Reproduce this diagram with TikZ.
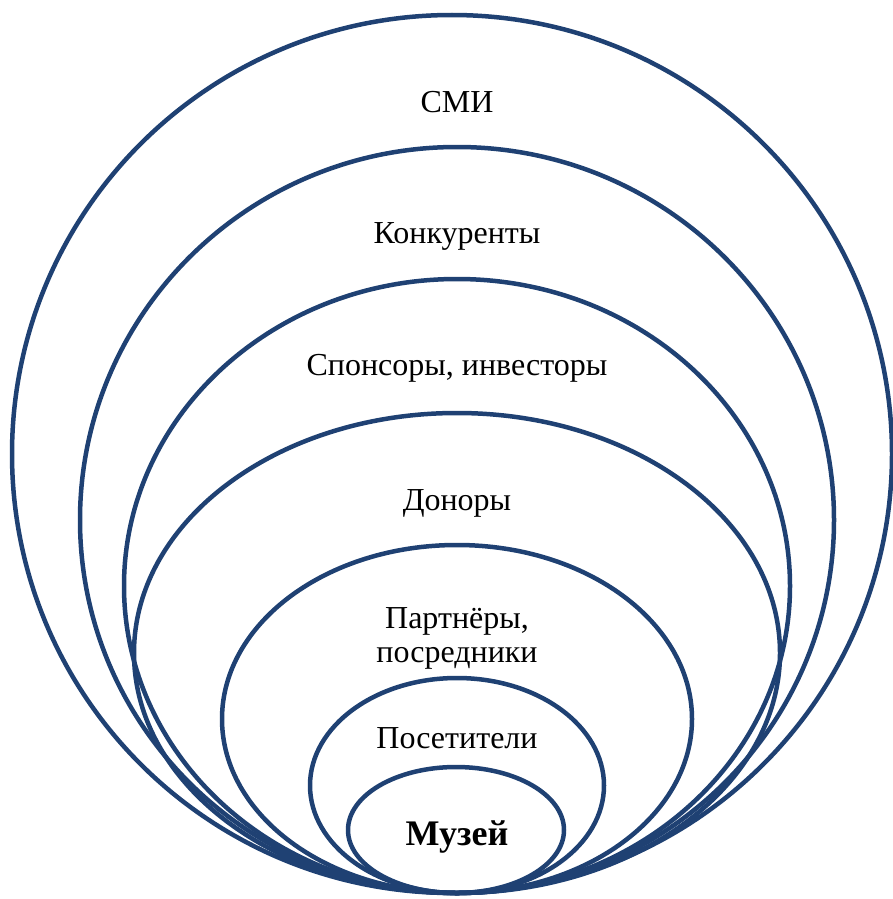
\documentclass[tikz,border=0pt]{standalone}
\usepackage{fontspec}
\setmainfont{Liberation Serif}
\definecolor{ringblue}{RGB}{31,65,115}
\begin{document}
\begin{tikzpicture}[x=1pt,y=-1pt,
  ring/.style={draw=ringblue,line width=4.5pt},
  lbl/.style={anchor=base,inner sep=0pt,font=\fontsize{32}{34}\selectfont,align=center}]
\useasboundingbox (0,0) rectangle (893,899);
\draw[ring] (452,454) ellipse [x radius=440pt,y radius=439pt];
\draw[ring] (457,520) ellipse [x radius=377pt,y radius=373pt];
\draw[ring] (457,586) ellipse [x radius=333pt,y radius=307pt];
\draw[ring] (457,653) ellipse [x radius=323pt,y radius=240pt];
\draw[ring] (457,719) ellipse [x radius=235pt,y radius=174pt];
\draw[ring] (457,785.5) ellipse [x radius=147pt,y radius=107.5pt];
\draw[ring] (456,830) ellipse [x radius=108pt,y radius=63pt];
\node[lbl] (smi) at (457,112) {СМИ};
\node[lbl] (konk) at (457,243) {Конкуренты};
\node[lbl] (spons) at (457,375) {Спонсоры, инвесторы};
\node[lbl] (donor) at (457,510) {Доноры};
\node[lbl] (part1) at (457,628) {Партнёры,};
\node[lbl] (part2) at (457,662) {посредники};
\node[lbl] (posit) at (457,748) {Посетители};
\node[lbl,font=\fontsize{36}{38}\selectfont\bfseries] (muz) at (457,845) {Музей};
\end{tikzpicture}
\end{document}
